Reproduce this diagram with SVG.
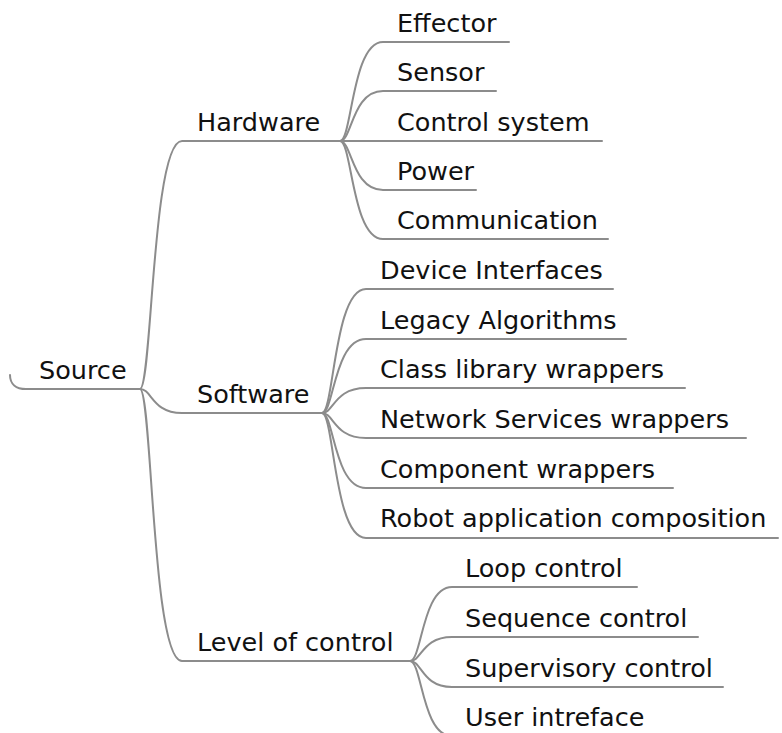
<svg xmlns="http://www.w3.org/2000/svg" width="782" height="733" viewBox="0 0 782 733">
  <style>
    .link { fill: none; stroke: #8c8c8c; stroke-width: 2; stroke-linecap: round; }
    .label { font-family: "DejaVu Sans", "Liberation Sans", sans-serif; font-size: 25.5px; fill: #111111; }
  </style>
  <rect width="782" height="733" fill="#ffffff"/>

  <!-- branch connectors: each curve ends in the underline of its child -->
  <g id="connectors">
    <!-- root underline -->
    <path class="link" d="M10,375 C10,384 16,389 26,389 H140"/>
    <!-- root to first level -->
    <path class="link" d="M140,389 C152,389 152,141 182,141 H340"/>
    <path class="link" d="M140,389 C152,389 152,413 182,413 H322"/>
    <path class="link" d="M140,389 C152,389 152,661 182,661 H410"/>
    <!-- Hardware children -->
    <path class="link" d="M340,141 C352,141 352,42 383,42 H509"/>
    <path class="link" d="M340,141 C352,141 352,91 383,91 H496"/>
    <path class="link" d="M340,141 H602"/>
    <path class="link" d="M340,141 C352,141 352,190 383,190 H476"/>
    <path class="link" d="M340,141 C352,141 352,239 383,239 H608"/>
    <!-- Software children -->
    <path class="link" d="M322,413 C334,413 334,289 366,289 H613"/>
    <path class="link" d="M322,413 C334,413 334,339 366,339 H626"/>
    <path class="link" d="M322,413 C334,413 334,388 366,388 H685"/>
    <path class="link" d="M322,413 C334,413 334,438 366,438 H746"/>
    <path class="link" d="M322,413 C334,413 334,488 366,488 H673"/>
    <path class="link" d="M322,413 C334,413 334,538 366,538 H778"/>
    <!-- Level of control children -->
    <path class="link" d="M410,661 C422,661 422,587 452,587 H637"/>
    <path class="link" d="M410,661 C422,661 422,637 452,637 H698"/>
    <path class="link" d="M410,661 C422,661 422,687 452,687 H723"/>
    <path class="link" d="M410,661 C422,661 422,736 452,736 H640"/>
  </g>

  <g id="node-source"><text class="label" x="39" y="379">Source</text></g>

  <g id="node-hardware"><text class="label" x="197" y="131">Hardware</text></g>
  <g id="node-effector"><text class="label" x="397" y="32">Effector</text></g>
  <g id="node-sensor"><text class="label" x="397" y="81">Sensor</text></g>
  <g id="node-control-system"><text class="label" x="397" y="131">Control system</text></g>
  <g id="node-power"><text class="label" x="397" y="180">Power</text></g>
  <g id="node-communication"><text class="label" x="397" y="229">Communication</text></g>

  <g id="node-software"><text class="label" x="197" y="403">Software</text></g>
  <g id="node-device-interfaces"><text class="label" x="380" y="279">Device Interfaces</text></g>
  <g id="node-legacy-algorithms"><text class="label" x="380" y="329">Legacy Algorithms</text></g>
  <g id="node-class-library"><text class="label" x="380" y="378">Class library wrappers</text></g>
  <g id="node-network-services"><text class="label" x="380" y="428">Network Services wrappers</text></g>
  <g id="node-component-wrappers"><text class="label" x="380" y="478">Component wrappers</text></g>
  <g id="node-robot-app"><text class="label" x="380" y="527">Robot application composition</text></g>

  <g id="node-level-of-control"><text class="label" x="197" y="651">Level of control</text></g>
  <g id="node-loop-control"><text class="label" x="465" y="577">Loop control</text></g>
  <g id="node-sequence-control"><text class="label" x="465" y="627">Sequence control</text></g>
  <g id="node-supervisory-control"><text class="label" x="465" y="677">Supervisory control</text></g>
  <g id="node-user-interface"><text class="label" x="465" y="726">User intreface</text></g>
</svg>
